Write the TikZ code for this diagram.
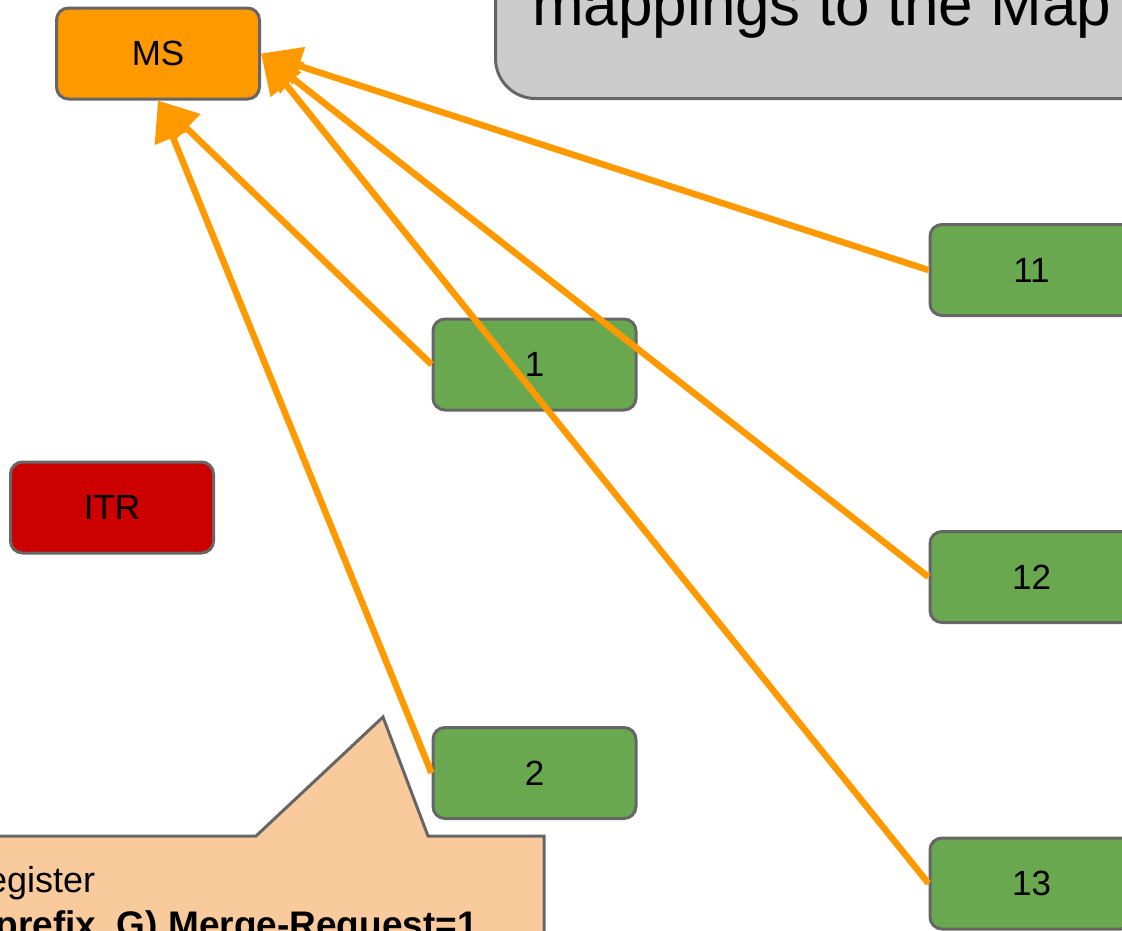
\documentclass[tikz,border=0pt]{standalone}
\usepackage{fontspec}
\setmainfont{Liberation Sans}
\usetikzlibrary{arrows.meta}
\definecolor{msorange}{HTML}{FF9900}
\definecolor{etrgreen}{HTML}{6AA84F}
\definecolor{itrred}{HTML}{CC0000}
\definecolor{panelgray}{HTML}{CCCCCC}
\definecolor{edgegray}{HTML}{666666}
\definecolor{peach}{HTML}{F9CB9C}
\begin{document}
\begin{tikzpicture}[x=1pt,y=-1pt,
  box/.style={draw=edgegray, line width=3pt, rounded corners=12pt,
    minimum width=203pt, minimum height=91pt, inner sep=0pt,
    font=\fontsize{35}{42}\selectfont},
  feed/.style={draw=msorange, line width=6.5pt,
    -{Triangle[length=40pt,width=38pt]}}]
\useasboundingbox (0,0) rectangle (1122,930);
\clip (0,0) rectangle (1122,930);

% title panel
\filldraw[fill=panelgray, draw=edgegray, line width=3pt, rounded corners=40pt]
  (495.5,-80) rectangle (1250,98.5);
\node[anchor=base west, inner sep=0pt, font=\fontsize{62}{70}\selectfont]
  (title) at (532,25) {mappings to the Map};

% map server, routers
\node[box, fill=msorange] (ms) at (158,53.5) {MS};
\node[box, fill=itrred] (itr) at (112,507.5) {ITR};
\node[box, fill=etrgreen] (n1) at (534.5,364.5) {1};
\node[box, fill=etrgreen] (n2) at (534.5,773) {2};
\node[box, fill=etrgreen] (n11) at (1031.5,270) {11};
\node[box, fill=etrgreen] (n12) at (1031.5,577) {12};
\node[box, fill=etrgreen] (n13) at (1031.5,883.5) {13};

% callout
\filldraw[fill=peach, draw=edgegray, line width=3pt, line join=miter]
  (-20,1000) -- (-20,836) -- (256,836) -- (383,717) -- (428,836)
  -- (544,836) -- (544,1000) -- cycle;
\node[anchor=base west, inner sep=0pt, font=\fontsize{36}{43}\selectfont]
  (reg) at (-39,892) {Register};
\node[anchor=base east, inner sep=0pt, font=\fontsize{37}{44}\selectfont\bfseries]
  (merge) at (478,937) {(S-prefix, G) Merge-Request=1};

% registrations towards the map server
\draw[feed] (n1.west) -- (ms.south);
\draw[feed] (n2.west) -- (ms.south);
\draw[feed] (n11.west) -- (ms.east);
\draw[feed] (n12.west) -- (ms.east);
\draw[feed] (n13.west) -- (ms.east);
\end{tikzpicture}
\end{document}
